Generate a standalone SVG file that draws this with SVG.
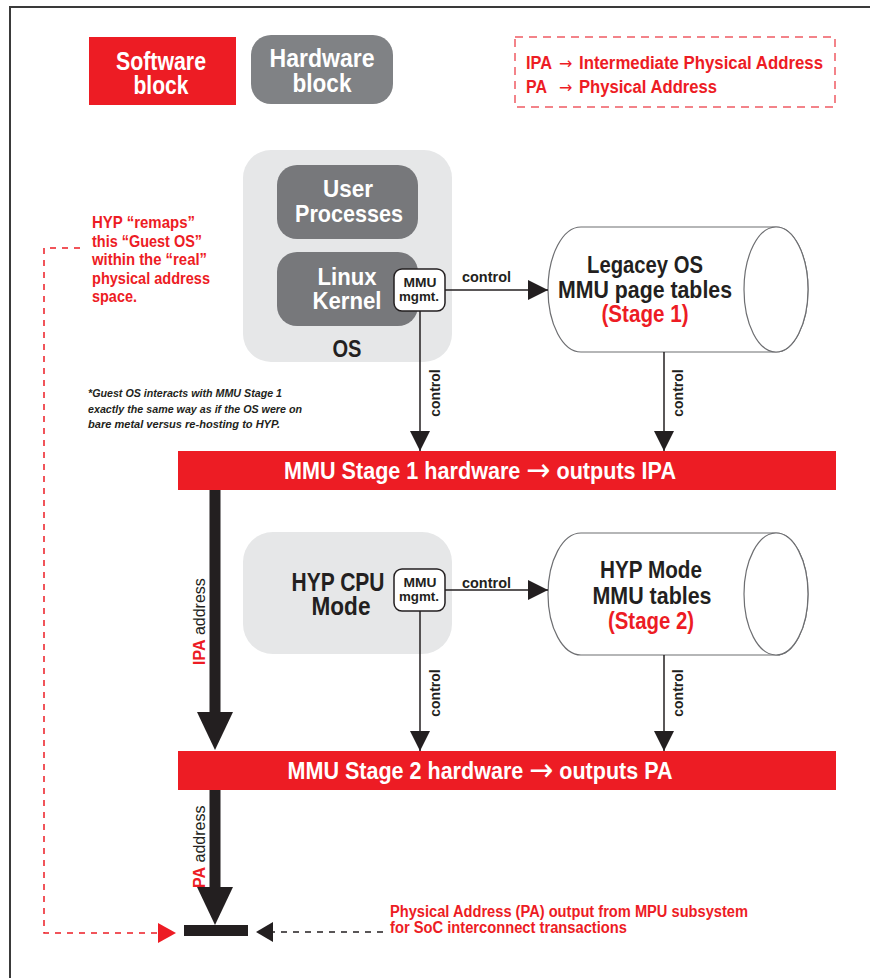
<svg xmlns="http://www.w3.org/2000/svg" width="870" height="978" viewBox="0 0 870 978">
<defs>
<style>
text{font-family:"Liberation Sans",Arial,sans-serif;font-weight:bold;fill:#231f20}
.w{fill:#fff}
.r{fill:#ed1c24}
.c{text-anchor:middle}
.ar{font-family:"DejaVu Sans",sans-serif;font-weight:normal}
.ln{stroke:#231f20;stroke-width:1.5;fill:none}
.thick{stroke:#231f20;stroke-width:11;fill:none}
.cyl{fill:#fff;stroke:#6d6e71;stroke-width:1.2}
.mmu{fill:#fff;stroke:#231f20;stroke-width:1.5}
.it{font-style:italic;font-weight:bold;font-size:11.5px}
</style>
<marker id="ah" markerUnits="userSpaceOnUse" viewBox="0 0 20 20" markerWidth="20" markerHeight="20" refX="20" refY="10" orient="auto"><path d="M0,0 L20,10 L0,20 Z" fill="#231f20"/></marker>
<marker id="big" markerUnits="userSpaceOnUse" viewBox="0 0 38 36" markerWidth="38" markerHeight="36" refX="4" refY="18" orient="auto"><path d="M0,0 L38,18 L0,36 Z" fill="#231f20"/></marker>
<marker id="redh" markerUnits="userSpaceOnUse" viewBox="0 0 18 20" markerWidth="18" markerHeight="20" refX="1" refY="10" orient="auto"><path d="M0,0 L18,10 L0,20 Z" fill="#ed1c24"/></marker>
<marker id="blkh" markerUnits="userSpaceOnUse" viewBox="0 0 17 20" markerWidth="17" markerHeight="20" refX="1" refY="10" orient="auto"><path d="M0,0 L17,10 L0,20 Z" fill="#231f20"/></marker>
</defs>
<rect width="870" height="978" fill="#fff"/>
<path d="M870,7 H10 V978" fill="none" stroke="#3a3a3a" stroke-width="2"/>

<g id="legend-software">
<rect x="89" y="37" width="147" height="68" fill="#ed1c24"/>
<text class="w c" x="161" y="70" font-size="25" textLength="90" lengthAdjust="spacingAndGlyphs">Software</text>
<text class="w c" x="161" y="94" font-size="25" textLength="55" lengthAdjust="spacingAndGlyphs">block</text>
</g>
<g id="legend-hardware">
<rect x="251" y="35" width="142" height="69" rx="20" fill="#808285"/>
<text class="w c" x="322" y="67" font-size="26" textLength="105" lengthAdjust="spacingAndGlyphs">Hardware</text>
<text class="w c" x="322" y="92" font-size="26" textLength="59" lengthAdjust="spacingAndGlyphs">block</text>
</g>
<g id="legend-abbrev">
<rect x="515" y="37" width="320" height="70" fill="none" stroke="#ef5b63" stroke-width="1.5" stroke-dasharray="8,6"/>
<text class="r" x="526" y="69" font-size="18" textLength="26" lengthAdjust="spacingAndGlyphs">IPA</text>
<text class="r ar" x="559" y="69" font-size="16">→</text>
<text class="r" x="579" y="69" font-size="18" textLength="244" lengthAdjust="spacingAndGlyphs">Intermediate Physical Address</text>
<text class="r" x="526" y="93" font-size="18" textLength="21" lengthAdjust="spacingAndGlyphs">PA</text>
<text class="r ar" x="559" y="93" font-size="16">→</text>
<text class="r" x="579" y="93" font-size="18" textLength="138" lengthAdjust="spacingAndGlyphs">Physical Address</text>
</g>

<g id="os">
<rect x="243" y="150" width="209" height="212" rx="28" fill="#e6e7e8"/>
<text class="c" x="347" y="357" font-size="24" textLength="29" lengthAdjust="spacingAndGlyphs">OS</text>
</g>
<g id="user-processes">
<rect x="277" y="165" width="141" height="74" rx="20" fill="#77787b"/>
<text class="w c" x="348" y="197" font-size="24" textLength="50" lengthAdjust="spacingAndGlyphs">User</text>
<text class="w c" x="349" y="222" font-size="24" textLength="108" lengthAdjust="spacingAndGlyphs">Processes</text>
</g>
<g id="linux-kernel">
<rect x="277" y="252" width="141" height="74" rx="20" fill="#77787b"/>
<text class="w c" x="347" y="285" font-size="24" textLength="59" lengthAdjust="spacingAndGlyphs">Linux</text>
<text class="w c" x="347" y="309" font-size="24" textLength="69" lengthAdjust="spacingAndGlyphs">Kernel</text>
</g>
<g id="os-mmu-mgmt">
<rect class="mmu" x="394" y="269" width="51" height="42" rx="8"/>
<text class="c" x="420" y="287" font-size="13.5" textLength="33" lengthAdjust="spacingAndGlyphs">MMU</text>
<text class="c" x="419" y="301" font-size="13.5" textLength="40" lengthAdjust="spacingAndGlyphs">mgmt.</text>
</g>
<g id="stage1-tables">
<path class="cyl" d="M581,227 H776 A32,62.5 0 0 1 776,352 H581 A33,62.5 0 0 1 581,227 Z"/>
<ellipse class="cyl" cx="776" cy="289.5" rx="32" ry="62.5"/>
<text class="c" x="645" y="273" font-size="24" textLength="116" lengthAdjust="spacingAndGlyphs">Legacey OS</text>
<text class="c" x="645" y="298" font-size="24" textLength="174" lengthAdjust="spacingAndGlyphs">MMU page tables</text>
<text class="r c" x="645" y="322" font-size="24" textLength="87" lengthAdjust="spacingAndGlyphs">(Stage 1)</text>
</g>
<g id="note">
<text class="it" x="88" y="397" textLength="194" lengthAdjust="spacingAndGlyphs">*Guest OS interacts with MMU Stage 1</text>
<text class="it" x="88" y="413" textLength="214" lengthAdjust="spacingAndGlyphs">exactly the same way as if the OS were on</text>
<text class="it" x="88" y="428" textLength="192" lengthAdjust="spacingAndGlyphs">bare metal versus re-hosting to HYP.</text>
</g>
<g id="remap-note">
<text class="r" x="92" y="228" font-size="17" textLength="103" lengthAdjust="spacingAndGlyphs">HYP “remaps”</text>
<text class="r" x="92" y="247" font-size="17" textLength="110" lengthAdjust="spacingAndGlyphs">this “Guest OS”</text>
<text class="r" x="92" y="265" font-size="17" textLength="115" lengthAdjust="spacingAndGlyphs">within the “real”</text>
<text class="r" x="92" y="284" font-size="17" textLength="118" lengthAdjust="spacingAndGlyphs">physical address</text>
<text class="r" x="92" y="302" font-size="17" textLength="45" lengthAdjust="spacingAndGlyphs">space.</text>
</g>
<g id="stage1-hw">
<rect x="178" y="451" width="658" height="39" fill="#ed1c24"/>
<text class="w c" x="480" y="479" font-size="24" textLength="392" lengthAdjust="spacingAndGlyphs">MMU Stage 1 hardware <tspan class="ar" font-size="32" dy="2">→</tspan><tspan dy="-2"> outputs IPA</tspan></text>
</g>
<g id="hyp-cpu">
<rect x="243" y="532" width="209" height="122" rx="30" fill="#e6e7e8"/>
<text class="c" x="338" y="591" font-size="25" textLength="93" lengthAdjust="spacingAndGlyphs">HYP CPU</text>
<text class="c" x="341" y="615" font-size="25" textLength="59" lengthAdjust="spacingAndGlyphs">Mode</text>
</g>
<g id="hyp-mmu-mgmt">
<rect class="mmu" x="394" y="569" width="51" height="42" rx="8"/>
<text class="c" x="420" y="587" font-size="13.5" textLength="33" lengthAdjust="spacingAndGlyphs">MMU</text>
<text class="c" x="419" y="601" font-size="13.5" textLength="40" lengthAdjust="spacingAndGlyphs">mgmt.</text>
</g>
<g id="stage2-tables">
<path class="cyl" d="M581,533 H776 A32,61 0 0 1 776,655 H581 A33,61 0 0 1 581,533 Z"/>
<ellipse class="cyl" cx="776" cy="594" rx="32" ry="61"/>
<text class="c" x="651" y="578" font-size="24" textLength="102" lengthAdjust="spacingAndGlyphs">HYP Mode</text>
<text class="c" x="652" y="604" font-size="24" textLength="119" lengthAdjust="spacingAndGlyphs">MMU tables</text>
<text class="r c" x="651" y="629" font-size="24" textLength="86" lengthAdjust="spacingAndGlyphs">(Stage 2)</text>
</g>
<g id="stage2-hw">
<rect x="178" y="751" width="658" height="39" fill="#ed1c24"/>
<text class="w c" x="480" y="779" font-size="24" textLength="385" lengthAdjust="spacingAndGlyphs">MMU Stage 2 hardware <tspan class="ar" font-size="32" dy="2">→</tspan><tspan dy="-2"> outputs PA</tspan></text>
</g>
<g id="pa-output">
<rect x="184" y="925" width="64" height="11" fill="#231f20"/>
<text class="r" x="390" y="917" font-size="16" textLength="358" lengthAdjust="spacingAndGlyphs">Physical Address (PA) output from MPU subsystem</text>
<text class="r" x="390" y="933" font-size="16" textLength="237" lengthAdjust="spacingAndGlyphs">for SoC interconnect transactions</text>
</g>

<g id="connectors">
<path class="ln" d="M445,290 H548" marker-end="url(#ah)"/>
<text x="462" y="282" font-size="14" textLength="49" lengthAdjust="spacingAndGlyphs">control</text>
<path class="ln" d="M420,311 V451" marker-end="url(#ah)"/>
<text class="c" transform="translate(440,393) rotate(-90)" font-size="14">control</text>
<path class="ln" d="M664,352 V451" marker-end="url(#ah)"/>
<text class="c" transform="translate(683,393) rotate(-90)" font-size="14">control</text>
<path class="ln" d="M445,590 H548" marker-end="url(#ah)"/>
<text x="462" y="588" font-size="14" textLength="49" lengthAdjust="spacingAndGlyphs">control</text>
<path class="ln" d="M420,611 V751" marker-end="url(#ah)"/>
<text class="c" transform="translate(440,693) rotate(-90)" font-size="14">control</text>
<path class="ln" d="M664,655 V751" marker-end="url(#ah)"/>
<text class="c" transform="translate(683,693) rotate(-90)" font-size="14">control</text>
<path class="thick" d="M215,490 V716" marker-end="url(#big)"/>
<text transform="translate(205,665) rotate(-90)" font-size="16"><tspan class="r">IPA</tspan><tspan font-weight="normal"> address</tspan></text>
<path class="thick" d="M215,790 V891" marker-end="url(#big)"/>
<text transform="translate(205,888) rotate(-90)" font-size="16"><tspan class="r">PA</tspan><tspan font-weight="normal"> address</tspan></text>
<path d="M80,248 H44 V933 H159" fill="none" stroke="#ed1c24" stroke-width="1.5" stroke-dasharray="6,6" marker-end="url(#redh)"/>
<path d="M383,932 H272" fill="none" stroke="#231f20" stroke-width="1.5" stroke-dasharray="6,6" marker-end="url(#blkh)"/>
</g>
</svg>
